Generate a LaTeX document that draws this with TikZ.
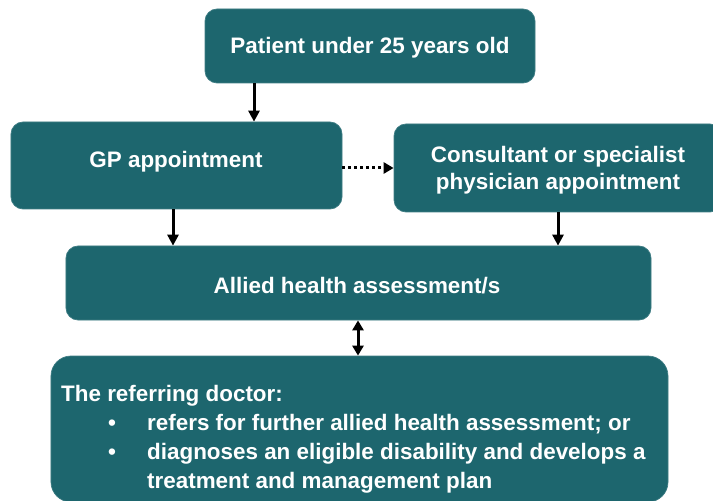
\documentclass[tikz,border=0pt]{standalone}
\usepackage{fontspec}
\setmainfont{Liberation Sans}
\usetikzlibrary{arrows.meta}
\definecolor{tealbox}{RGB}{29,102,110}
\begin{document}
\begin{tikzpicture}[x=1bp,y=-1bp,
  box/.style={draw=tealbox!85!white, line width=0.7bp, fill=tealbox, rounded corners=12bp,
    inner sep=0pt},
  lbl/.style={anchor=base, inner sep=0pt, text=white, align=center,
    font=\bfseries\fontsize{22.5}{27}\selectfont},
  arr/.style={line width=3bp, black, -{Triangle[length=11bp,width=11bp]}},
  dotarr/.style={line width=3bp, black, dash pattern=on 3bp off 3bp,
    -{Triangle[length=10bp,width=11bp]}},
  dblarr/.style={line width=3bp, black,
    {Triangle[length=10bp,width=11bp]}-{Triangle[length=10bp,width=11bp]}}]
\useasboundingbox (0,0) rectangle (713,501);
\clip (0,0) rectangle (713,501);
\node[box, minimum width=330bp, minimum height=74bp] (top) at (370,46) {};
\node[box, minimum width=331bp, minimum height=87bp] (gp) at (176.5,165.5) {};
\node[box, minimum width=328bp, minimum height=88bp] (cons) at (558,168) {};
\node[box, minimum width=585bp, minimum height=74bp] (allied) at (358.5,283) {};
\node[box, rounded corners=20bp, minimum width=617bp, minimum height=146bp] (doc) at (359.5,429) {};
\node[lbl] (toptext) at (370,54) {Patient under 25 years old};
\node[lbl] (gptext) at (176,168) {GP appointment};
\node[lbl] (constext1) at (558,163) {Consultant or specialist};
\node[lbl] (constext2) at (558,190) {physician appointment};
\node[lbl] (alliedtext) at (357,293) {Allied health assessment/s};
\node[anchor=north west, inner sep=0pt, text=white, align=left,
  font=\bfseries\fontsize{22.5}{29}\selectfont] (doctext) at (61,385)
  {The referring doctor:\\
   \hspace*{47bp}\makebox[39bp][l]{\textbullet}refers for further allied health assessment; or\\
   \hspace*{47bp}\makebox[39bp][l]{\textbullet}diagnoses an eligible disability and develops a\\
   \hspace*{86bp}treatment and management plan};
\draw[arr] (top.south -| 254,0) -- (gp.north -| 254,0);
\draw[arr] (gp.south -| 173,0) -- (allied.north -| 173,0);
\draw[arr] (cons.south -| 558,0) -- (allied.north -| 558,0);
\draw[dotarr] (gp.east |- 0,168) -- (cons.west |- 0,168);
\draw[dblarr] (allied.south -| 358,0) -- (doc.north -| 358,0);
\end{tikzpicture}
\end{document}
